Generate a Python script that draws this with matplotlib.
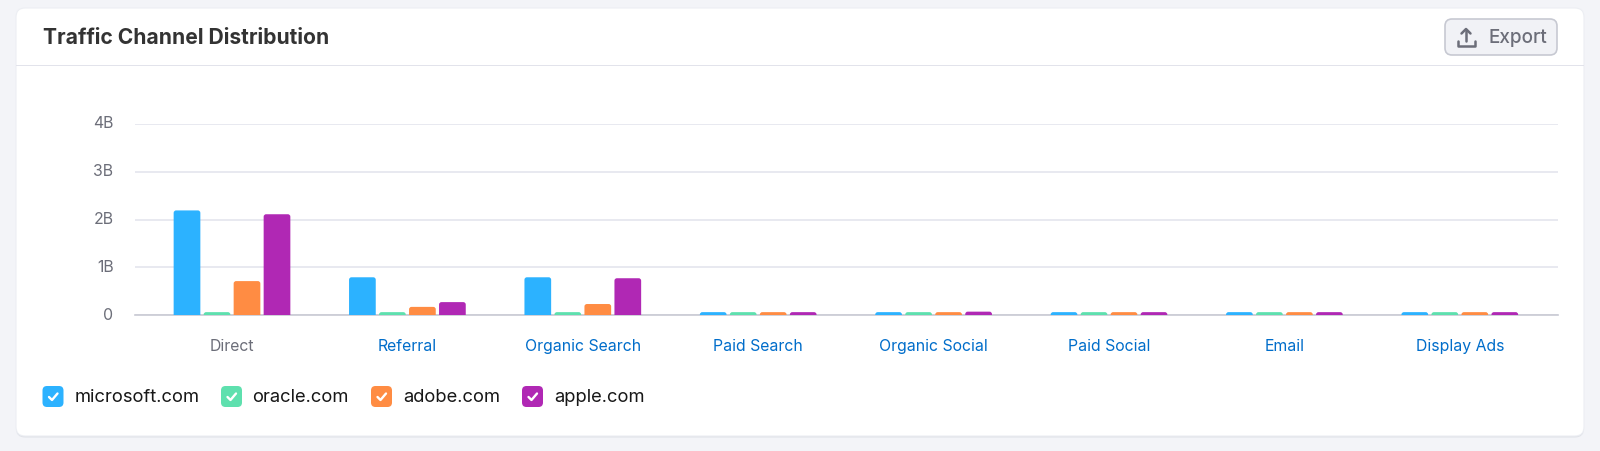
import matplotlib
matplotlib.use("Agg")
import matplotlib.pyplot as plt
from matplotlib.patches import FancyBboxPatch, PathPatch, Rectangle
from matplotlib.path import Path
from matplotlib.transforms import ScaledTranslation

plt.rcParams["font.family"] = ["Inter", "DejaVu Sans"]

W, H = 1600, 451

categories = ["Direct", "Referral", "Organic Search", "Paid Search",
              "Organic Social", "Paid Social", "Email", "Display Ads"]
domains = ["microsoft.com", "oracle.com", "adobe.com", "apple.com"]
colors = ["#2cb2ff", "#5ee0ae", "#ff8c43", "#b028b4"]
tick_values = [0, 1, 2, 3, 4]
tick_labels = ["0", "1B", "2B", "3B", "4B"]

# values in billions
microsoft = [2.19, 0.79, 0.79, 0.06, 0.06, 0.06, 0.06, 0.06]
oracle = [0.06, 0.06, 0.06, 0.06, 0.06, 0.06, 0.06, 0.06]
adobe = [0.71, 0.17, 0.23, 0.06, 0.06, 0.06, 0.06, 0.06]
apple = [2.11, 0.27, 0.77, 0.06, 0.07, 0.06, 0.06, 0.06]
series = [microsoft, oracle, adobe, apple]


def px_rect(x0, y0, x1, y1):
    # pixel box (y from the top) to figure fractions
    return [x0 / W, 1 - y1 / H, (x1 - x0) / W, (y1 - y0) / H]


def rounded_top(x0, x1, top, rx, ry):
    verts = [(x0, 0), (x0, top - ry), (x0, top), (x0 + rx, top), (x1 - rx, top),
             (x1, top), (x1, top - ry), (x1, 0), (x0, 0)]
    codes = [Path.MOVETO, Path.LINETO, Path.CURVE3, Path.CURVE3, Path.LINETO,
             Path.CURVE3, Path.CURVE3, Path.LINETO, Path.CLOSEPOLY]
    return Path(verts, codes)


fig = plt.figure(figsize=(W / 100, H / 100), dpi=100, facecolor="#f3f4f8")

# page layer in pixel coordinates
bg = fig.add_axes([0, 0, 1, 1])
bg.set_xlim(0, W)
bg.set_ylim(H, 0)
bg.axis("off")

bg.add_patch(FancyBboxPatch((16, 9), 1568, 428.5, boxstyle="round,pad=0,rounding_size=9",
                            fc="#dfe1e7", ec="none"))
bg.add_patch(FancyBboxPatch((16, 8), 1568, 428, boxstyle="round,pad=0,rounding_size=9",
                            fc="white", ec="#eceef3", lw=0.8))
bg.add_patch(Rectangle((16, 65), 1568, 1.2, fc="#e2e3eb", ec="none"))
bg.text(43, 38, "Traffic Channel Distribution", fontsize=15.15, fontweight="bold",
        color="#333333", va="center", ha="left")

# export button
bg.add_patch(FancyBboxPatch((1445, 19), 112, 36, boxstyle="round,pad=0,rounding_size=7",
                            fc="#f1f2f6", ec="#c7c9d2", lw=1.2))
bg.text(1488, 38, "Export", fontsize=13.6, fontweight="medium", color="#6c6e79",
        va="center", ha="left")
bg.plot([1458, 1458, 1474.5, 1474.5], [41, 45.5, 45.5, 41], color="#6c6e79", lw=1.8,
        solid_capstyle="round", solid_joinstyle="round")
bg.plot([1466, 1466], [30, 41], color="#6c6e79", lw=1.8, solid_capstyle="round")
bg.plot([1461.5, 1466, 1470.5], [33.5, 29, 33.5], color="#6c6e79", lw=1.8,
        solid_capstyle="round", solid_joinstyle="round")

# legend
box_x = [42.5, 221, 371, 522]
text_x = [74.6, 252.4, 403, 554]
for name, c, bx, tx in zip(domains, colors, box_x, text_x):
    bg.add_patch(FancyBboxPatch((bx, 386), 21, 21, boxstyle="round,pad=0,rounding_size=4.5",
                                fc=c, ec="none"))
    bg.plot([bx + 6.5, bx + 9.5, bx + 15], [397, 400, 393.5], color="white", lw=1.7,
            solid_capstyle="round", solid_joinstyle="round")
    bg.text(tx, 397.5, name, fontsize=13.25, color="#171717", va="center", ha="left")

# chart
ax = fig.add_axes(px_rect(135, 124, 1558, 315))
ax.patch.set_alpha(0)
band = 175.4
ax.set_xlim((135 - 232) / band, (1558 - 232) / band)
ax.set_ylim(0, 4)

step = 30 / band
bar_w = 26.7 / band
rx = 2.5 / band
ry = 2.5 / 47.75
for s, (vals, c) in enumerate(zip(series, colors)):
    for i, v in enumerate(vals):
        x0 = i + (s - 1.5) * step - bar_w / 2
        path = rounded_top(x0, x0 + bar_w, v, rx, min(ry, v))
        ax.add_patch(PathPatch(path, fc=c, ec="none", zorder=3))

ax.set_yticks(tick_values)
ax.set_yticklabels(tick_labels, fontsize=11.4, color="#6c6e79")
ax.set_xticks(range(len(categories)))
ax.set_xticklabels(categories, fontsize=11.4, color="#006dca")
ax.get_xticklabels()[0].set_color("#6c6e79")
ax.tick_params(axis="y", length=0, pad=15.5)
ax.tick_params(axis="x", length=0, pad=17.5)
up = ScaledTranslation(0, 1.5 / 100, fig.dpi_scale_trans)
for label in ax.get_yticklabels():
    label.set_transform(label.get_transform() + up)
ax.grid(axis="y", color="#e4e5ee", lw=1.2, zorder=0)
ax.set_axisbelow(True)
for spine in ["top", "right", "left"]:
    ax.spines[spine].set_visible(False)
ax.spines["bottom"].set_color("#c8c9d3")
ax.spines["bottom"].set_linewidth(1.2)
ax.spines["bottom"].set_zorder(2)

fig.savefig("out.png", dpi=100, facecolor=fig.get_facecolor())
